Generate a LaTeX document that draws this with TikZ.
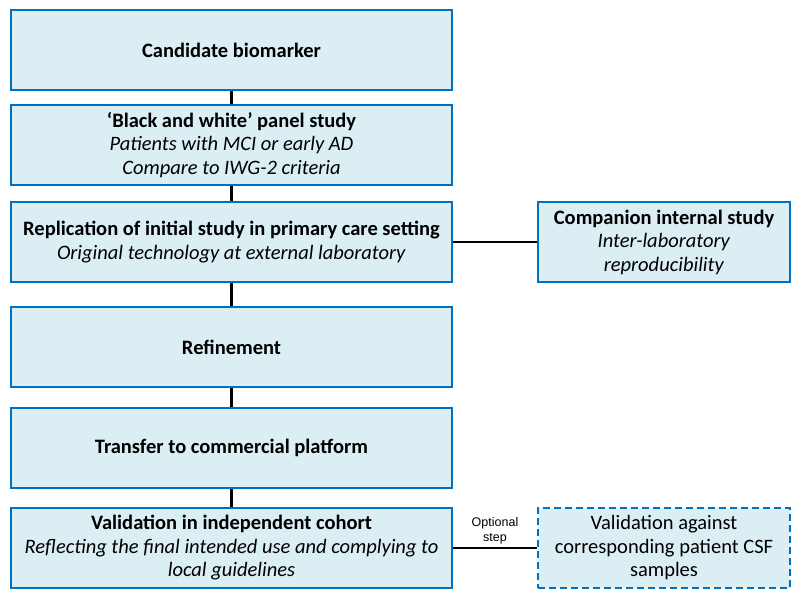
\documentclass[tikz,border=0pt]{standalone}
\usepackage{fontspec}
\setmainfont{Carlito}
\newfontfamily\arialfont{Liberation Sans}
\definecolor{boxfill}{HTML}{DAEEF3}
\definecolor{boxline}{HTML}{0070C0}
\tikzset{
    stepbox/.style={draw=boxline, fill=boxfill, line width=2pt, minimum width=441pt, minimum height=80pt, align=center, inner sep=0pt, font=\fontsize{20.5}{23.5}\selectfont},
    sidebox/.style={stepbox, minimum width=252pt},
    link/.style={black, line width=2.5pt}
}
\begin{document}
\begin{tikzpicture}[x=1pt, y=-1pt]
            \useasboundingbox (0,0) rectangle (800,599);

            \node[stepbox] (cand) at (231.5,50) {\textbf{Candidate biomarker}};
            \node[stepbox] (panel) at (231.5,145) {\textbf{‘Black and white’ panel study}\\\textit{Patients with MCI or early AD}\\\textit{Compare to IWG-2 criteria}};
            \node[stepbox] (repl) at (231.5,242) {\textbf{Replication of initial study in primary care setting}\\\textit{Original technology at external laboratory}};
            \node[stepbox] (refine) at (231.5,347) {\textbf{Refinement}};
            \node[stepbox] (transfer) at (231.5,448) {\textbf{Transfer to commercial platform}};
            \node[stepbox] (valid) at (231.5,548) {\textbf{Validation in independent cohort}\\\textit{Reflecting the final intended use and complying to}\\\textit{local guidelines}};

            \node[sidebox] (companion) at (664,242) {\textbf{Companion internal study}\\\textit{Inter-laboratory}\\\textit{reproducibility}};
            \node[sidebox, dashed, dash pattern=on 7pt off 4pt] (csf) at (664,548) {Validation against\\corresponding patient CSF\\samples};

            \draw[link] (cand) -- (panel);
            \draw[link] (panel) -- (repl);
            \draw[link] (repl) -- (refine);
            \draw[link] (refine) -- (transfer);
            \draw[link] (transfer) -- (valid);
            \draw[link] (repl) -- (companion);
            \draw[link] (valid) -- node[above, align=center, font=\arialfont\fontsize{12.5}{15}\selectfont, inner sep=3pt] (opt) {Optional\\step} (csf);
        \end{tikzpicture}
\end{document}
